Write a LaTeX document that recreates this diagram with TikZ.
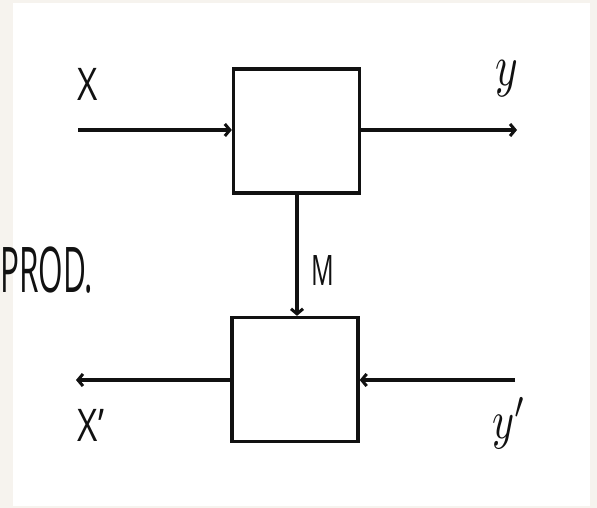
\documentclass[tikz,border=0pt]{standalone}
\usepackage{fontspec}
\setsansfont{Open Sans}
\usetikzlibrary{arrows.meta}
\definecolor{paper}{HTML}{F6F3EE}
\definecolor{ink}{HTML}{111111}
\newcommand{\capsize}[1]{\sffamily\fontsize{#1}{#1}\selectfont}
\begin{document}
\begin{tikzpicture}[x=1pt,y=-1pt,
  blk/.style={draw=ink,line width=3.4pt,minimum width=126pt,minimum height=124pt,inner sep=0pt},
  tip/.style={-{Straight Barb[length=5pt,width=12pt,line width=3pt]}},
  flow/.style={draw=ink,line width=3.2pt,tip},
  lbl/.style={text=ink,inner sep=0pt}]
  % paper and sheet
  \fill[paper] (0,0) rectangle (597,508);
  \fill[white] (13,3) rectangle (590,506);
  \useasboundingbox (0,0) rectangle (597,508);
  % blocks
  \node[blk] (top) at (296.5,131) {};
  \node[blk] (bot) at (295,379.5) {};
  % end points of the free connectors
  \coordinate (xin) at (78,130);
  \coordinate (yout) at (517,130);
  \coordinate (yin) at (515,380);
  \coordinate (xout) at (76,380);
  % connectors
  \draw[flow] (xin) -- (top.west |- xin);
  \draw[flow] (top.east |- yout) -- (yout);
  \draw[flow] (top.south) ++(0.5,0) coordinate (ms) -- (ms |- bot.north);
  \draw[flow] (yin) -- (bot.east |- yin);
  \draw[flow] (bot.west |- xout) -- (xout);
  % labels
  \node[lbl] (lx) at (88,84) {\scalebox{0.78}[1]{\capsize{45}X}};
  \node[lbl] (ly) at (507,79) {\scalebox{4.3}[5.8]{$y$}};
  \node[lbl] (lxp) at (91,425) {\scalebox{0.78}[1]{\capsize{45}X'}};
  \node[lbl] (lyp) at (509,423) {\scalebox{4.2}[5.4]{$y'$}};
  \node[lbl] (lm) at (323,271) {\scalebox{0.6}[1]{\capsize{42}M}};
  \node[lbl,anchor=west] (prod) at (0,270) {\scalebox{0.5}[1]{\capsize{63}PROD.}};
\end{tikzpicture}
\end{document}
